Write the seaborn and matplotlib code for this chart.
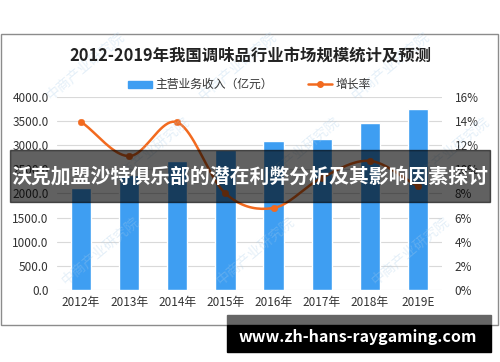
import numpy as np
import pandas as pd
import matplotlib
matplotlib.use("Agg")
import matplotlib.pyplot as plt
import seaborn as sns
from matplotlib.patches import Rectangle

years = ["2012年", "2013年", "2014年", "2015年", "2016年", "2017年", "2018年", "2019E"]
revenue = [2110, 2385, 2670, 2900, 3090, 3130, 3460, 3745]
growth = [13.95, 11.1, 13.9, 8.0, 6.8, 9.3, 10.7, 8.6]

left_ticks = [0, 500, 1000, 1500, 2000, 2500, 3000, 3500, 4000]
right_ticks = [0, 2, 4, 6, 8, 10, 12, 14, 16]

title = "2012-2019年我国调味品行业市场规模统计及预测"
banner = "沃克加盟沙特俱乐部的潜在利弊分析及其影响因素探讨"
site = "www.zh-hans-raygaming.com"

sns.set_style("white")
plt.rcParams['font.family'] = ['Noto Sans CJK SC', 'DejaVu Sans']

bar_color = "#3E9EF2"
line_color = "#F26A1F"


def smooth(xs, ys, n=20):
    # Catmull-Rom curve through the points, like Excel's smoothed line
    xs = np.asarray(xs, float)
    ys = np.asarray(ys, float)
    px = np.concatenate([[2 * xs[0] - xs[1]], xs, [2 * xs[-1] - xs[-2]]])
    py = np.concatenate([[2 * ys[0] - ys[1]], ys, [2 * ys[-1] - ys[-2]]])
    outx, outy = [], []
    for i in range(1, len(px) - 2):
        t = np.linspace(0, 1, n, endpoint=False)
        for p, out in ((px, outx), (py, outy)):
            p0, p1, p2, p3 = p[i - 1], p[i], p[i + 1], p[i + 2]
            out.extend(0.5 * (2 * p1 + (-p0 + p2) * t + (2 * p0 - 5 * p1 + 4 * p2 - p3) * t ** 2
                              + (-p0 + 3 * p1 - 3 * p2 + p3) * t ** 3))
    outx.append(xs[-1])
    outy.append(ys[-1])
    return np.array(outx), np.array(outy)


fig = plt.figure(figsize=(5, 3.62), dpi=100)

# outer frame of the chart
fig.patches.append(Rectangle((0.002, 1 - 325 / 362), 0.994, (325 - 34) / 362,
                             transform=fig.transFigure, fill=False,
                             edgecolor="#8c8c8c", linewidth=1.0, zorder=0))

ax = fig.add_axes([0.114, 0.199, 0.77, 0.533])
df = pd.DataFrame({"year": years, "revenue": revenue, "growth": growth})
sns.barplot(data=df, x="year", y="revenue", color=bar_color, width=0.42,
            saturation=1, ax=ax, zorder=2)
ax.set_ylim(0, 4000)
ax.set_yticks(left_ticks)
ax.set_yticklabels([f"{v:.1f}" for v in left_ticks], fontsize=8.5, color="#333333")
ax.set_xlabel("")
ax.set_ylabel("")
ax.tick_params(axis="x", labelsize=8.5, colors="#333333", length=0, pad=4)
ax.tick_params(axis="y", length=0, pad=6)
ax.grid(axis="y", color="#d9d9d9", linewidth=0.8, zorder=0)
ax.set_axisbelow(True)
for s in ax.spines.values():
    s.set_visible(False)

ax2 = ax.twinx()
sx, sy = smooth(range(len(growth)), growth)
sns.lineplot(x=sx, y=sy, color=line_color, linewidth=1.8, ax=ax2, zorder=3)
sns.scatterplot(x=range(len(growth)), y=growth, color=line_color, s=22,
                edgecolor=line_color, ax=ax2, zorder=4)
ax2.set_ylim(0, 16)
ax2.set_yticks(right_ticks)
ax2.set_yticklabels([f"{v}%" for v in right_ticks], fontsize=8.5, color="#333333")
ax2.tick_params(axis="y", length=0, pad=9)
for s in ax2.spines.values():
    s.set_visible(False)
ax.set_xlim(-0.5, len(years) - 0.5)

# title and legend
fig.text(0.5, 1 - 56 / 362, title, ha="center", va="center", fontsize=11.8,
         fontweight="bold", color="#222222")
fig.patches.append(Rectangle((128 / 500, 1 - 88 / 362), 24 / 500, 7 / 362,
                             transform=fig.transFigure, color=bar_color))
fig.text(155 / 500, 1 - 84 / 362, "主营业务收入（亿元）", ha="left", va="center",
         fontsize=8.5, color="#333333")
fig.lines.append(plt.Line2D([308 / 500, 332 / 500], [1 - 84 / 362, 1 - 84 / 362],
                            transform=fig.transFigure, color=line_color, linewidth=1.8))
fig.lines.append(plt.Line2D([320 / 500], [1 - 84 / 362], transform=fig.transFigure,
                            color=line_color, marker="o", markersize=4))
fig.text(336 / 500, 1 - 84 / 362, "增长率", ha="left", va="center",
         fontsize=8.5, color="#333333")

# faint watermarks
for wx, wy in [(85, 65), (237, 65), (390, 65), (150, 150), (300, 150), (450, 150),
               (100, 250), (255, 250), (410, 250)]:
    fig.text(wx / 500, 1 - wy / 362, "中商产业研究院", ha="center", va="center",
             rotation=40, fontsize=10, color="#a9cdea", alpha=0.3, zorder=1)

# banner overlay
fig.patches.append(Rectangle((10 / 500, 1 - 202 / 362), 480 / 500, 52 / 362,
                             transform=fig.transFigure, color="black", alpha=0.62,
                             zorder=10))
fig.text(0.5, 1 - 176 / 362, banner, ha="center", va="center", fontsize=14.3,
         fontweight="bold", color="white", zorder=11)

# site box bottom right
fig.patches.append(Rectangle((227 / 500, 1 - 325 / 362), 264 / 500, 10 / 362,
                             transform=fig.transFigure, color="#666666", zorder=10))
fig.patches.append(Rectangle((227 / 500, 1 - 352 / 362), 264 / 500, 27 / 362,
                             transform=fig.transFigure, color="black", zorder=10))
fig.text(358 / 500, 1 - 337 / 362, site, ha="center", va="center", fontsize=11.5,
         fontweight="bold", color="white", zorder=11)

fig.savefig("out.png", dpi=100)
